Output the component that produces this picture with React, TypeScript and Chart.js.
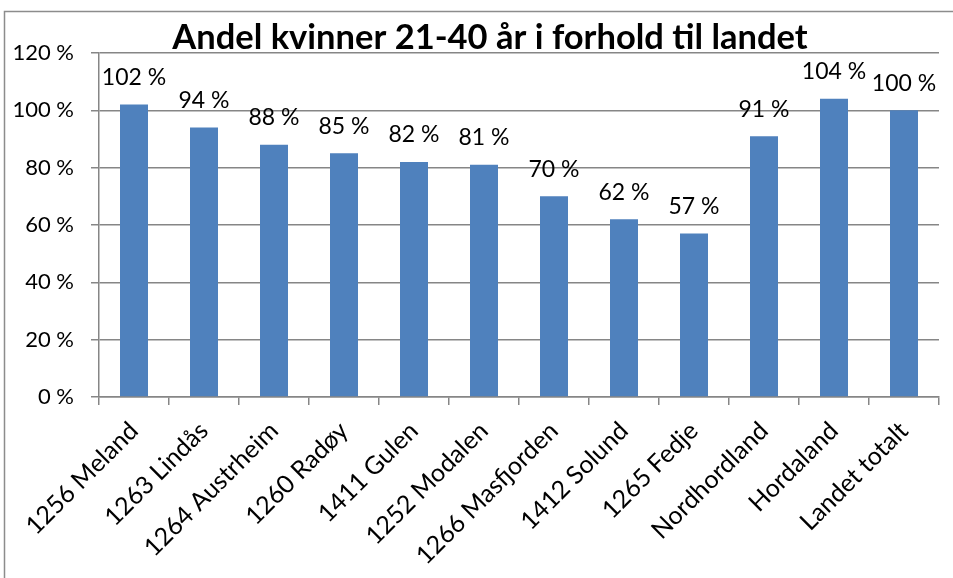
import { useEffect, useRef } from "react";
import { Chart, registerables } from "chart.js";

Chart.register(...registerables);

const titleText = "Andel kvinner 21-40 år i forhold til landet";
const categories = [
  "1256 Meland",
  "1263 Lindås",
  "1264 Austrheim",
  "1260 Radøy",
  "1411 Gulen",
  "1252 Modalen",
  "1266 Masfjorden",
  "1412 Solund",
  "1265 Fedje",
  "Nordhordland",
  "Hordaland",
  "Landet totalt",
];
const values = [102, 94, 88, 85, 82, 81, 70, 62, 57, 91, 104, 100];
const yMin = 0;
const yMax = 120;
const yStep = 20;

const FONT = "Lato, 'Open Sans', sans-serif";
const GRID = "#868686";
const BAR = "#4F81BD";

const decorPlugin = {
  id: "decor",
  beforeDraw(chart: any) {
    const ctx = chart.ctx;
    ctx.save();
    ctx.fillStyle = "#ffffff";
    ctx.fillRect(0, 0, chart.width, chart.height);
    ctx.strokeStyle = "#8c8c8c";
    ctx.lineWidth = 1.5;
    ctx.strokeRect(4.5, 11.5, chart.width + 10, chart.height + 10);
    ctx.restore();
  },
  afterDraw(chart: any) {
    const ctx = chart.ctx;
    ctx.save();
    // title
    ctx.fillStyle = "#000";
    ctx.font = `bold 34.5px ${FONT}`;
    ctx.textAlign = "center";
    ctx.textBaseline = "alphabetic";
    ctx.fillText(titleText, 490, 49);
    // data labels
    const meta = chart.getDatasetMeta(0);
    ctx.font = `23px ${FONT}`;
    ctx.textBaseline = "middle";
    meta.data.forEach((bar: any, i: number) => {
      ctx.fillText(values[i] + " %", bar.x, bar.y - 27);
    });
    ctx.restore();
  },
};

export default function App() {
  const ref = useRef<HTMLCanvasElement | null>(null);
  useEffect(() => {
    if (!ref.current) return;
    const chart = new Chart(ref.current, {
      type: "bar",
      data: {
        labels: categories,
        datasets: [
          {
            data: values,
            backgroundColor: BAR,
            borderWidth: 0,
            barPercentage: 0.4,
            categoryPercentage: 1,
          },
        ],
      },
      options: {
        animation: false,
        responsive: false,
        maintainAspectRatio: false,
        layout: { padding: { left: 0, top: 53, right: 14, bottom: 0 } },
        plugins: {
          legend: { display: false },
          title: { display: false },
          tooltip: { enabled: false },
        },
        scales: {
          x: {
            offset: true,
            grid: {
              display: true,
              offset: true,
              drawOnChartArea: false,
              drawTicks: true,
              tickLength: 8,
              color: GRID,
              lineWidth: 1.5,
            },
            border: { display: true, color: GRID, width: 1.5 },
            ticks: {
              color: "#000",
              font: { family: FONT, size: 25 },
              minRotation: 45,
              maxRotation: 45,
              padding: 11,
              autoSkip: false,
            },
            afterFit(scale: any) {
              scale.height = 578 - 397;
            },
          },
          y: {
            min: yMin,
            max: yMax,
            grid: {
              color: GRID,
              lineWidth: 1.5,
              tickLength: 8,
              drawTicks: true,
            },
            border: { display: true, color: GRID, width: 1.5 },
            ticks: {
              stepSize: yStep,
              color: "#000",
              font: { family: FONT, size: 22 },
              padding: 17,
              callback: (v: any) => v + " %",
            },
            afterFit(scale: any) {
              scale.width = 99;
            },
          },
        },
      },
      plugins: [decorPlugin],
    });
    return () => chart.destroy();
  }, []);
  return (
    <div style={{ position: "fixed", left: 0, top: 0, width: 953, height: 578 }}>
      <canvas ref={ref} width={953} height={578} style={{ display: "block" }} />
    </div>
  );
}
